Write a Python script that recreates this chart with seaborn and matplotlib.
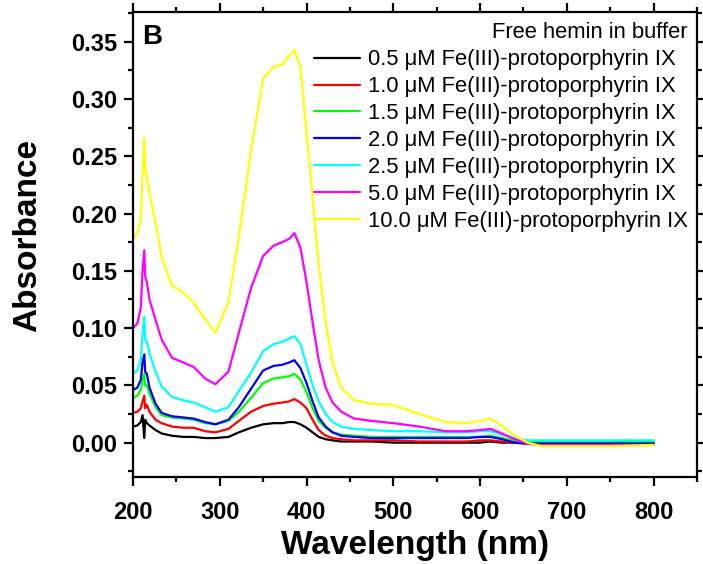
import numpy as np
import pandas as pd
import matplotlib
matplotlib.use("Agg")
import matplotlib.pyplot as plt
from matplotlib.ticker import MultipleLocator, FormatStrFormatter
import seaborn as sns

# wavelength grid (nm)
WL = [200, 205, 209, 211, 213, 214, 216, 219, 226, 233, 245, 258, 270, 283, 295,
      310, 322, 336, 350, 362, 372, 380, 386, 393, 400, 407, 414, 422, 430, 440,
      455, 475, 500, 530, 560, 585, 600, 612, 625, 640, 655, 670, 700, 750, 800]

A_05 = [0.014, 0.015, 0.018, 0.024, 0.004, 0.020, 0.017, 0.015, 0.011, 0.008, 0.006, 0.005, 0.005, 0.004, 0.004,
        0.005, 0.009, 0.013, 0.016, 0.017, 0.017, 0.018, 0.018, 0.016, 0.013, 0.009, 0.005, 0.003, 0.002, 0.001,
        0.001, 0.001, 0.000, 0.000, 0.000, 0.000, 0.000, 0.001, 0.000, 0.000, 0.000, 0.000, 0.000, 0.000, 0.000]
A_10 = [0.026, 0.027, 0.030, 0.036, 0.041, 0.030, 0.033, 0.027, 0.020, 0.017, 0.014, 0.013, 0.013, 0.010, 0.009,
        0.012, 0.019, 0.027, 0.032, 0.034, 0.035, 0.036, 0.038, 0.035, 0.030, 0.020, 0.011, 0.006, 0.004, 0.003,
        0.002, 0.002, 0.002, 0.001, 0.001, 0.001, 0.002, 0.002, 0.001, 0.000, -0.001, -0.001, -0.001, -0.001, -0.001]
A_15 = [0.039, 0.041, 0.046, 0.055, 0.060, 0.050, 0.050, 0.043, 0.031, 0.024, 0.022, 0.021, 0.020, 0.017, 0.016,
        0.019, 0.027, 0.039, 0.052, 0.056, 0.057, 0.058, 0.060, 0.055, 0.044, 0.030, 0.019, 0.013, 0.009, 0.007,
        0.006, 0.005, 0.005, 0.005, 0.005, 0.005, 0.005, 0.006, 0.004, 0.002, 0.001, 0.001, 0.001, 0.001, 0.001]
A_20 = [0.046, 0.048, 0.055, 0.070, 0.077, 0.062, 0.060, 0.048, 0.034, 0.026, 0.023, 0.022, 0.021, 0.018, 0.016,
        0.020, 0.031, 0.047, 0.063, 0.067, 0.068, 0.070, 0.072, 0.065, 0.052, 0.036, 0.022, 0.014, 0.009, 0.006,
        0.005, 0.004, 0.004, 0.004, 0.004, 0.004, 0.005, 0.005, 0.003, 0.000, -0.001, -0.001, -0.001, -0.001, -0.001]
A_25 = [0.060, 0.063, 0.072, 0.095, 0.110, 0.090, 0.088, 0.078, 0.062, 0.049, 0.040, 0.037, 0.035, 0.031, 0.027,
        0.031, 0.045, 0.061, 0.080, 0.086, 0.088, 0.091, 0.093, 0.086, 0.068, 0.050, 0.036, 0.025, 0.018, 0.014,
        0.012, 0.011, 0.010, 0.010, 0.009, 0.009, 0.010, 0.010, 0.007, 0.004, 0.002, 0.002, 0.002, 0.002, 0.002]
A_50 = [0.100, 0.104, 0.118, 0.150, 0.168, 0.145, 0.140, 0.125, 0.107, 0.090, 0.074, 0.070, 0.066, 0.056, 0.051,
        0.062, 0.096, 0.135, 0.163, 0.172, 0.175, 0.178, 0.183, 0.170, 0.140, 0.105, 0.072, 0.048, 0.035, 0.027,
        0.021, 0.019, 0.017, 0.014, 0.010, 0.010, 0.011, 0.012, 0.008, 0.003, -0.001, -0.002, -0.002, -0.002, -0.002]
A_100 = [0.177, 0.183, 0.195, 0.235, 0.266, 0.238, 0.232, 0.218, 0.192, 0.162, 0.137, 0.131, 0.122, 0.108, 0.096,
         0.123, 0.180, 0.255, 0.318, 0.328, 0.330, 0.338, 0.343, 0.328, 0.270, 0.215, 0.155, 0.105, 0.070, 0.048,
         0.037, 0.034, 0.033, 0.025, 0.018, 0.017, 0.019, 0.021, 0.015, 0.006, 0.000, -0.003, -0.003, -0.003, -0.002]

LABELS = ["0.5 μM Fe(III)-protoporphyrin IX",
          "1.0 μM Fe(III)-protoporphyrin IX",
          "1.5 μM Fe(III)-protoporphyrin IX",
          "2.0 μM Fe(III)-protoporphyrin IX",
          "2.5 μM Fe(III)-protoporphyrin IX",
          "5.0 μM Fe(III)-protoporphyrin IX",
          "10.0 μM Fe(III)-protoporphyrin IX"]
COLORS = ["#000000", "#FF0000", "#00FF00", "#0000FF", "#00FFFF", "#FF00FF", "#FFFF00"]
SERIES = [A_05, A_10, A_15, A_20, A_25, A_50, A_100]

# long format for seaborn
rows = []
for lab, vals in zip(LABELS, SERIES):
    for w, a in zip(WL, vals):
        rows.append({"wl": w, "A": a, "conc": lab})
df = pd.DataFrame(rows)

sns.set_style("ticks", {"axes.edgecolor": "black", "text.color": "black",
                        "axes.labelcolor": "black", "xtick.color": "black",
                        "ytick.color": "black"})
plt.rcParams["font.family"] = ["Liberation Sans", "DejaVu Sans"]

fig = plt.figure(figsize=(7.03, 5.64), dpi=100)
ax = fig.add_axes([133 / 703, 1 - 477 / 564, 564 / 703, 465 / 564])

sns.lineplot(data=df, x="wl", y="A", hue="conc", hue_order=LABELS,
             palette=COLORS, linewidth=1.6, estimator=None, sort=False, ax=ax)

ax.set_xlim(200, 850)
ax.set_ylim(-0.03, 0.376)
ax.xaxis.set_major_locator(MultipleLocator(100))
ax.xaxis.set_minor_locator(MultipleLocator(50))
ax.yaxis.set_major_locator(MultipleLocator(0.05))
ax.yaxis.set_minor_locator(MultipleLocator(0.025))
ax.yaxis.set_major_formatter(FormatStrFormatter("%.2f"))

for sp in ax.spines.values():
    sp.set_linewidth(1.6)
    sp.set_visible(True)
    sp.set_color("black")
ax.tick_params(which="both", direction="out", top=True, right=True, width=1.6,
               colors="black")
ax.tick_params(which="major", length=6.5, labelsize=17)
ax.tick_params(which="minor", length=3.5)
ax.tick_params(axis="y", which="major", pad=5)
ax.tick_params(axis="x", which="major", pad=11)
plt.setp(ax.get_xticklabels() + ax.get_yticklabels(), fontweight="bold")

ax.set_xlabel("Wavelength (nm)", fontsize=24, fontweight="bold")
ax.set_ylabel("Absorbance", fontsize=24, fontweight="bold")
ax.xaxis.set_label_coords(0.5, -0.113)
ax.yaxis.set_label_coords(-0.16, 0.52)

ax.text(0.016, 0.975, "B", transform=ax.transAxes, fontsize=20,
        fontweight="bold", va="top", ha="left")

handles, labels = ax.get_legend_handles_labels()
ax.legend(handles, labels, title="Free hemin in buffer", loc="upper right",
          bbox_to_anchor=(1.007, 1.006), frameon=False, fontsize=15.8,
          title_fontsize=15.8, alignment="right", handlelength=2.1,
          handletextpad=0.35, labelspacing=0.27, borderaxespad=0.2)

fig.savefig("out.png", dpi=100)
